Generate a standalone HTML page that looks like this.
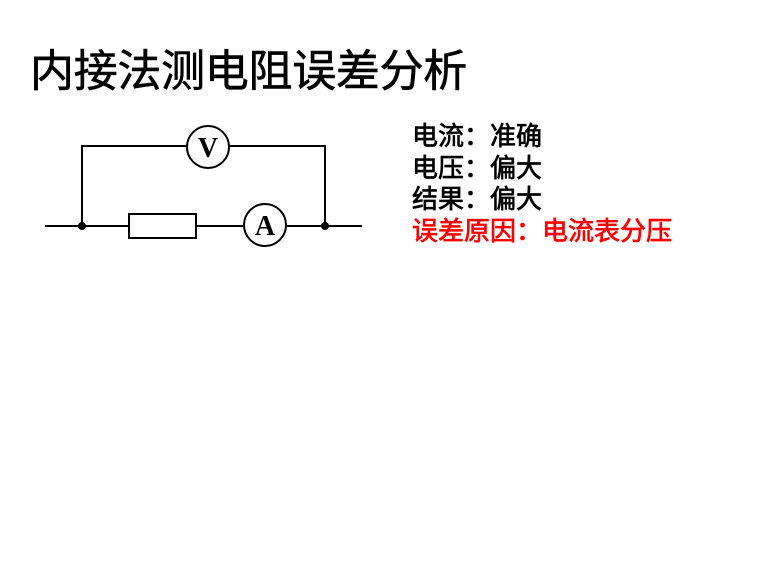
<!DOCTYPE html>
<html><head><meta charset="utf-8"><style>
body{margin:0;width:780px;height:588px;background:#fff;overflow:hidden;position:relative}
.t{position:absolute;left:30px;top:44px;font:44px/56px "Liberation Sans","WenQuanYi Zen Hei",sans-serif;color:#000;white-space:nowrap;letter-spacing:-0.3px;-webkit-text-stroke:0.6px #000}
.r{position:absolute;left:412px;top:121px;font:26px/31.5px "Liberation Sans","WenQuanYi Zen Hei",sans-serif;color:#000;white-space:nowrap;-webkit-text-stroke:0.7px currentColor}
</style></head><body>
<div class="t">内接法测电阻误差分析</div>
<svg width="780" height="588" style="position:absolute;left:0;top:0">
<g stroke="#000" stroke-width="2" fill="none">
<line x1="45" y1="226" x2="129" y2="226"/>
<line x1="196" y1="226" x2="243" y2="226"/>
<line x1="287" y1="226" x2="362" y2="226"/>
<polyline points="82,226 82,146 187,146"/>
<polyline points="229,146 325,146 325,226"/>
<rect x="129" y="214" width="67" height="24" fill="#fff"/>
<circle cx="208" cy="147" r="21" fill="#fff"/>
<circle cx="265" cy="225" r="21" fill="#fff"/>
</g>
<circle cx="82" cy="226" r="4" fill="#000"/>
<circle cx="325" cy="226" r="4" fill="#000"/>
<text x="208" y="157" text-anchor="middle" font-family="Liberation Serif,serif" font-weight="bold" font-size="28">V</text>
<text x="265" y="235" text-anchor="middle" font-family="Liberation Serif,serif" font-weight="bold" font-size="28">A</text>
</svg>
<div class="r">电流：准确<br>电压：偏大<br>结果：偏大<br><span style="color:#f00">误差原因：电流表分压</span></div>
</body></html>
